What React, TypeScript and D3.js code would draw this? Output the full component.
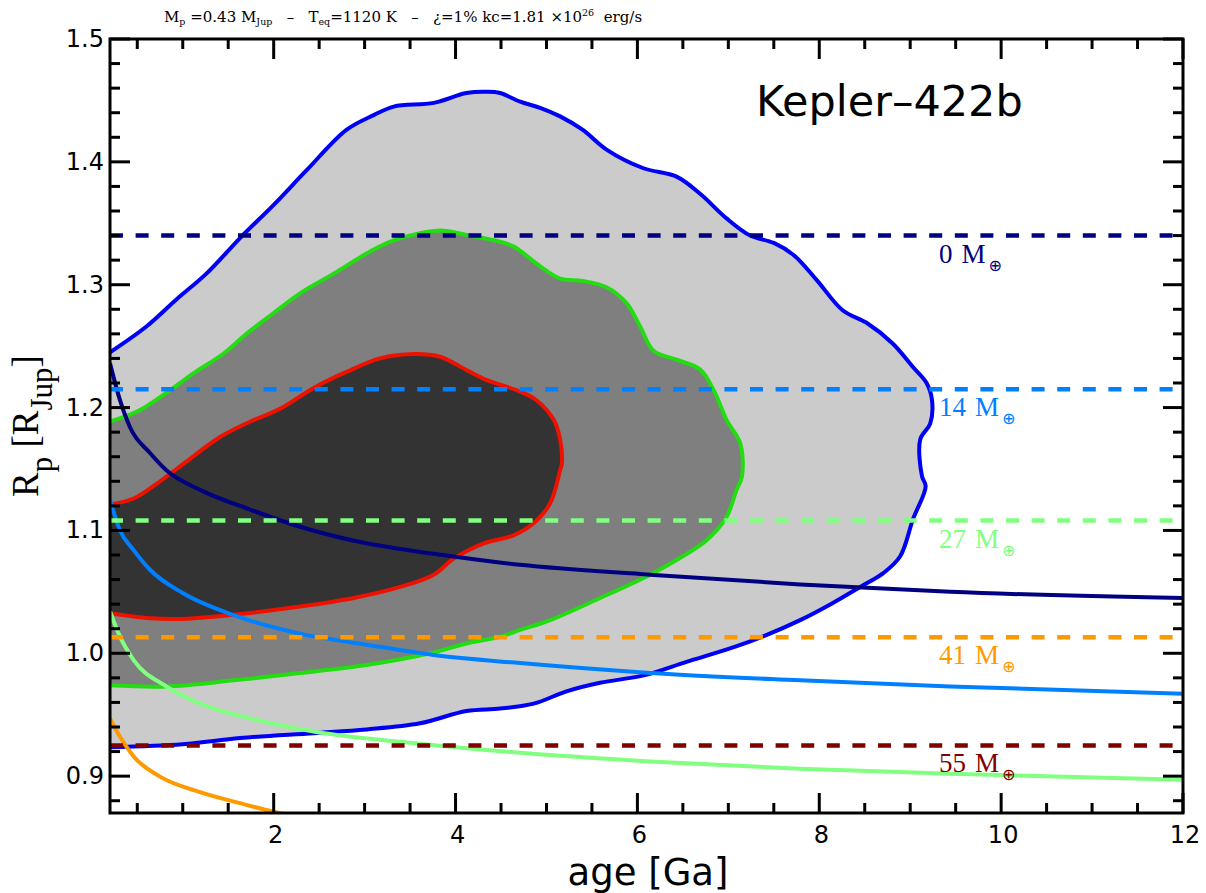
import * as d3 from "d3";

// contour data [age Ga, radius R_Jup]
const outerContour: [number, number][] = [
  [0.2, 1.245], [0.6, 1.266], [0.93, 1.288], [1.26, 1.309], [1.63, 1.338], [2.0, 1.365],
  [2.36, 1.393], [2.8, 1.426], [3.1, 1.438], [3.32, 1.445], [3.76, 1.448], [4.12, 1.456],
  [4.34, 1.457], [4.49, 1.456], [4.71, 1.449], [4.93, 1.444], [5.15, 1.437], [5.4, 1.426],
  [5.66, 1.41], [6.06, 1.395], [6.43, 1.388], [6.69, 1.374], [6.98, 1.354], [7.24, 1.34],
  [7.5, 1.334], [7.72, 1.324], [7.97, 1.304], [8.26, 1.279], [8.52, 1.269], [8.81, 1.252],
  [9.03, 1.233], [9.18, 1.22], [9.24, 1.206], [9.22, 1.187], [9.11, 1.174], [9.13, 1.144],
  [9.17, 1.136], [9.03, 1.109], [8.89, 1.079], [8.7, 1.065], [8.45, 1.054], [8.15, 1.041],
  [7.79, 1.027], [7.39, 1.014], [7.06, 1.005], [6.54, 0.993], [6.07, 0.982], [5.59, 0.976],
  [5.22, 0.969], [4.86, 0.959], [4.49, 0.955], [4.12, 0.953], [3.61, 0.943], [3.02, 0.938],
  [2.44, 0.935], [1.63, 0.931], [1.0, 0.926], [0.2, 0.9235]
];

const middleContour: [number, number][] = [
  [0.2, 1.1885], [0.53, 1.198], [0.82, 1.212], [1.12, 1.228], [1.45, 1.244], [1.7, 1.26],
  [2.0, 1.277], [2.29, 1.293], [2.66, 1.309], [3.06, 1.327], [3.32, 1.336], [3.61, 1.342],
  [3.87, 1.344], [4.12, 1.3405], [4.49, 1.335], [4.64, 1.331], [4.93, 1.315], [5.15, 1.305],
  [5.4, 1.303], [5.66, 1.298], [5.88, 1.285], [6.03, 1.266], [6.18, 1.246], [6.43, 1.239],
  [6.69, 1.231], [6.84, 1.214], [6.98, 1.19], [7.13, 1.171], [7.15, 1.144], [7.09, 1.133],
  [6.98, 1.111], [6.76, 1.092], [6.5, 1.079], [6.14, 1.064], [5.59, 1.045], [5.04, 1.027],
  [4.71, 1.019], [4.49, 1.0135], [4.12, 1.008], [3.72, 1.0], [3.02, 0.9905], [2.29, 0.984],
  [1.56, 0.978], [0.82, 0.973], [0.2, 0.974]
];

const innerContour: [number, number][] = [
  [0.2, 1.121], [0.46, 1.126], [0.75, 1.14], [1.04, 1.156], [1.41, 1.176], [1.74, 1.1885],
  [2.07, 1.199], [2.44, 1.216], [2.8, 1.229], [3.17, 1.24], [3.54, 1.2436], [3.83, 1.2414],
  [4.12, 1.2306], [4.34, 1.2225], [4.71, 1.213], [4.89, 1.206], [5.08, 1.19], [5.15, 1.174],
  [5.17, 1.155], [5.15, 1.149], [5.04, 1.122], [4.86, 1.106], [4.64, 1.096], [4.31, 1.0895],
  [3.98, 1.077], [3.76, 1.064], [3.39, 1.054], [2.88, 1.045], [2.29, 1.038], [1.63, 1.032],
  [1.0, 1.028], [0.64, 1.0285], [0.2, 1.0326]
];

// evolution tracks for each core mass
const track0: [number, number][] = [
  [0.2, 1.236], [0.31, 1.206], [0.42, 1.184], [0.64, 1.163], [0.82, 1.149], [1.19, 1.133],
  [1.74, 1.117], [2.29, 1.103], [3.02, 1.0895], [3.76, 1.081], [4.71, 1.072], [6.14, 1.064],
  [7.79, 1.056], [9.44, 1.05], [12, 1.045]
];
const track14: [number, number][] = [
  [0.2, 1.125], [0.31, 1.1], [0.46, 1.084], [0.64, 1.068], [1.0, 1.049], [1.56, 1.031],
  [2.29, 1.016], [3.02, 1.007], [3.76, 0.9986], [4.71, 0.992], [6.14, 0.984], [7.79, 0.978],
  [9.44, 0.973], [12, 0.967]
];
const track27: [number, number][] = [
  [0.2, 1.034], [0.31, 1.0135], [0.46, 0.9945], [0.82, 0.973], [1.19, 0.959], [1.74, 0.947],
  [2.47, 0.936], [3.39, 0.928], [4.71, 0.919], [6.14, 0.912], [7.79, 0.906], [9.44, 0.902],
  [12, 0.897]
];
const track41: [number, number][] = [
  [0.2, 0.947], [0.31, 0.932], [0.46, 0.916], [0.75, 0.8996], [1.19, 0.887], [1.63, 0.878],
  [2.0, 0.871], [2.4, 0.865]
];

const massLabels = ["0", "14", "27", "41", "55"];
const massRadius = [1.34, 1.215, 1.108, 1.013, 0.925];
const massColors = ["#000080", "#0080ff", "#80ff80", "#ff9900", "#800000"];
const tracks = [track0, track14, track27, track41];

const yMajor = [0.9, 1.0, 1.1, 1.2, 1.3, 1.4, 1.5];
const xMajor = [2, 4, 6, 8, 10, 12];

export default function App() {
  const width = 1206;
  const height = 893;
  const left = 110, right = 1183, top = 39, bottom = 813;

  const x = d3.scaleLinear().domain([0.2, 12]).range([left, right]);
  const y = d3.scaleLinear().domain([0.87, 1.5]).range([bottom, top]);

  const contourLine = d3
    .line<[number, number]>()
    .x(d => x(d[0]))
    .y(d => y(d[1]))
    .curve(d3.curveCatmullRom.alpha(0.5));

  const trackLine = d3
    .line<[number, number]>()
    .x(d => x(d[0]))
    .y(d => y(d[1]))
    .curve(d3.curveMonotoneX);

  const yMinor = d3.range(0.88, 1.5, 0.02).filter(v => !yMajor.some(m => Math.abs(m - v) < 1e-6));
  const xMinor = d3.range(0.5, 12, 0.5).filter(v => !xMajor.includes(v));

  const contours = [
    { pts: outerContour, fill: "#cbcbcb", stroke: "#0000f5" },
    { pts: middleContour, fill: "#7f7f7f", stroke: "#22dd11" },
    { pts: innerContour, fill: "#333333", stroke: "#ee1100" }
  ];

  const serif = "'Liberation Serif', 'DejaVu Serif', serif";
  const sans = "'DejaVu Sans', sans-serif";

  return (
    <svg width={width} height={height} style={{ position: "absolute", left: 0, top: 0, display: "block", background: "white" }}>
      <defs>
        <clipPath id="plot">
          <rect x={left} y={top} width={right - left} height={bottom - top} />
        </clipPath>
      </defs>

      <g clipPath="url(#plot)">
        {contours.map((c, i) => (
          <path key={"f" + i} d={String(contourLine(c.pts)) + "Z"} fill={c.fill} />
        ))}
        {contours.map((c, i) => (
          <path key={"s" + i} d={String(contourLine(c.pts))} fill="none" stroke={c.stroke} strokeWidth={4} />
        ))}
        {tracks.map((t, i) => (
          <path key={"t" + i} d={String(trackLine(t))} fill="none" stroke={massColors[i]} strokeWidth={4} />
        ))}
        {massRadius.map((r, i) => (
          <line key={"d" + i} x1={x(0.2)} x2={x(11.9)} y1={y(r)} y2={y(r)}
            stroke={massColors[i]} strokeWidth={4.5} strokeDasharray="13 12.6" />
        ))}
      </g>

      {massRadius.map((r, i) => (
        <text key={"l" + i} x={939} y={y(r) + 27} fill={massColors[i]} fontFamily={serif} fontSize={27}>
          {massLabels[i]}
          <tspan dx={9}>M</tspan>
          <tspan dx={3} dy={8} fontFamily={sans} fontSize={16}>⊕</tspan>
        </text>
      ))}

      {/* frame */}
      <rect x={left} y={top} width={right - left} height={bottom - top} fill="none" stroke="black" strokeWidth={3} />

      <g stroke="black" strokeWidth={3}>
        {yMajor.map(v => (
          <g key={"ym" + v}>
            <line x1={left} x2={left + 20} y1={y(v)} y2={y(v)} />
            <line x1={right} x2={right - 20} y1={y(v)} y2={y(v)} />
          </g>
        ))}
        {yMinor.map(v => (
          <g key={"yn" + v}>
            <line x1={left} x2={left + 10} y1={y(v)} y2={y(v)} />
            <line x1={right} x2={right - 10} y1={y(v)} y2={y(v)} />
          </g>
        ))}
        {xMajor.map(v => (
          <g key={"xm" + v}>
            <line x1={x(v)} x2={x(v)} y1={bottom} y2={bottom - 20} />
            <line x1={x(v)} x2={x(v)} y1={top} y2={top + 20} />
          </g>
        ))}
        {xMinor.map(v => (
          <g key={"xn" + v}>
            <line x1={x(v)} x2={x(v)} y1={bottom} y2={bottom - 10} />
            <line x1={x(v)} x2={x(v)} y1={top} y2={top + 10} />
          </g>
        ))}
      </g>

      {yMajor.map(v => (
        <text key={"yl" + v} x={104} y={y(v) + 8} textAnchor="end" fontFamily={sans} fontSize={24} fill="black">
          {v.toFixed(1)}
        </text>
      ))}
      {xMajor.map(v => (
        <text key={"xl" + v} x={x(v) + 2} y={843} textAnchor="middle" fontFamily={sans} fontSize={24} fill="black">
          {v}
        </text>
      ))}

      <text x={648} y={885} textAnchor="middle" fontFamily={sans} fontSize={37} fill="black">age [Ga]</text>

      <text transform="translate(38,426) rotate(-90)" textAnchor="middle" fontFamily={serif} fontSize={37} fill="black">
        R<tspan dy={14} fontSize={31}>p</tspan>
        <tspan dy={-14}> [R</tspan>
        <tspan dy={14} fontSize={31}>Jup</tspan>
        <tspan dy={-14}>]</tspan>
      </text>

      <text x={756} y={116} fontFamily={sans} fontSize={43} fill="black">Kepler–422b</text>

      <text x={164} y={22} fontFamily="'DejaVu Serif', serif" fontSize={15} fill="black" style={{ whiteSpace: "pre" }}>
        M<tspan dy={3} fontSize={9.5}>p</tspan>
        <tspan dy={-3}> =0.43 M</tspan>
        <tspan dy={3} fontSize={9.5}>Jup</tspan>
        <tspan dy={-3}>{"   –   T"}</tspan>
        <tspan dy={3} fontSize={9.5}>eq</tspan>
        <tspan dy={-3}>{"=1120 K   –   ¿=1% kc=1.81 ×10"}</tspan>
        <tspan dy={-6} fontSize={9.5}>26</tspan>
        <tspan dy={6}>{"  erg/s"}</tspan>
      </text>
    </svg>
  );
}
